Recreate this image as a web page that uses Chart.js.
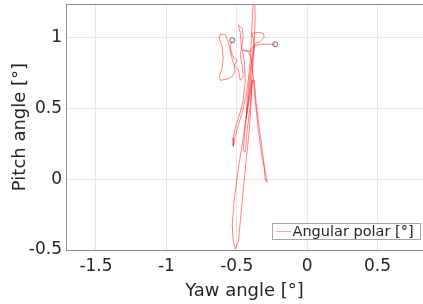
<!DOCTYPE html>
<html>
<head>
<meta charset="utf-8">
<script src="https://cdn.jsdelivr.net/npm/chart.js@4"></script>
<style>
  body { margin: 0; background: #fff; overflow: hidden; }
</style>
</head>
<body>
<canvas id="c" width="423" height="304"></canvas>
<script>
// yaw / pitch trace, in degrees
let yaw = [-0.532, -0.546, -0.539, -0.518, -0.496, -0.518, -0.511, -0.539, -0.574, -0.617,
  -0.624, -0.603, -0.596, -0.603, -0.624, -0.617, -0.582, -0.560, -0.546, -0.525,
  -0.489, -0.475, -0.454, -0.461, -0.475, -0.461, -0.454, -0.461, -0.489, -0.475,
  -0.468, -0.447, -0.440, -0.454, -0.475, -0.511, -0.525, -0.525, -0.511, -0.482,
  -0.454, -0.433, -0.418, -0.404, -0.397, -0.390, -0.383, -0.376, -0.369, -0.376,
  -0.390, -0.418, -0.440, -0.454, -0.440, -0.426, -0.404, -0.390, -0.397, -0.411,
  -0.433, -0.454, -0.475, -0.489, -0.511, -0.525, -0.532, -0.518, -0.496, -0.468,
  -0.440, -0.418, -0.404, -0.390, -0.376, -0.383, -0.390, -0.348, -0.312, -0.305,
  -0.333, -0.376, -0.390, -0.404, -0.426, -0.433, -0.411, -0.390,
  -0.376, -0.362, -0.340, -0.326, -0.312, -0.298, -0.284,
  -0.298, -0.305, -0.326, -0.348, -0.369, -0.383, -0.397, -0.418, -0.454, -0.404,
  -0.383, -0.333, -0.277, -0.227];
let pitch = [0.979, 0.937, 0.894, 0.852, 0.838, 0.803, 0.754, 0.718, 0.704, 0.697,
  0.725, 0.789, 0.859, 0.930, 0.993, 1.021, 1.021, 0.965, 0.908, 0.817,
  0.768, 0.697, 0.725, 0.796, 0.880, 0.944, 1.007, 1.063, 1.085, 1.035,
  0.944, 0.838, 0.697, 0.556, 0.472, 0.359, 0.289, 0.232, 0.303, 0.401,
  0.500, 0.592, 0.697, 0.838, 0.979, 1.120, 1.261, 1.303, 1.155, 0.944,
  0.732, 0.556, 0.380, 0.204, 0.190, 0.345, 0.521, 0.697, 0.556, 0.345,
  0.134, -0.077, -0.303, -0.444, -0.493, -0.437, -0.324, -0.148, 0.028, 0.204,
  0.380, 0.556, 0.697, 0.824, 0.923, 0.993, 1.028, 1.035, 1.028, 1.000,
  0.972, 0.951, 0.873, 0.768, 0.556, 0.430, 0.556, 0.697,
  0.697, 0.535, 0.359, 0.261, 0.148, 0.049, -0.021,
  -0.007, 0.077, 0.190, 0.359, 0.556, 0.725, 0.852, 0.901, 0.908, 0.901,
  0.937, 0.951, 0.951, 0.951];
let xTicks = [-1.5, -1, -0.5, 0, 0.5];
let yTicks = [-0.5, 0, 0.5, 1];
let seriesLabel = 'Angular polar [°]';

const ctx = document.getElementById('c').getContext('2d');

let trace = yaw.map((v, i) => ({ x: v, y: pitch[i] }));
let ends = [trace[0], trace[trace.length - 1]];

const font = 'DejaVu Sans';

const frame = {
  id: 'frame',
  afterDraw(chart) {
    const a = chart.chartArea;
    const c = chart.ctx;
    c.save();
    // top box line
    c.strokeStyle = '#8c8c8c';
    c.lineWidth = 1;
    c.beginPath();
    c.moveTo(a.left, a.top + 0.5);
    c.lineTo(a.right, a.top + 0.5);
    c.stroke();
    // legend box, lower right
    const bx = 272.5, by = 223.5, bw = 148, bh = 16;
    c.fillStyle = '#fff';
    c.fillRect(bx, by, bw, bh);
    c.strokeStyle = '#a6a6a6';
    c.strokeRect(bx, by, bw, bh);
    c.strokeStyle = 'rgba(255,0,0,0.35)';
    c.beginPath();
    c.moveTo(bx + 3, by + bh / 2);
    c.lineTo(bx + 19, by + bh / 2);
    c.stroke();
    c.fillStyle = '#262626';
    c.font = '14.5px ' + font;
    c.textBaseline = 'middle';
    c.fillText(chart.data.datasets[0].label, bx + 20, by + bh / 2 + 0.5);
    c.restore();
  }
};

const myChart = new Chart(ctx, {
  type: 'scatter',
  data: {
    datasets: [{
      label: seriesLabel,
      data: trace,
      showLine: true,
      borderColor: 'rgba(255,0,0,0.7)',
      borderWidth: 0.7,
      pointRadius: 0,
      tension: 0
    }, {
      label: 'ends',
      data: ends,
      showLine: false,
      pointRadius: 2.5,
      borderWidth: 1,
      borderColor: '#666',
      backgroundColor: 'rgba(255,255,255,0)'
    }]
  },
  options: {
    responsive: false,
    animation: false,
    layout: { autoPadding: false, padding: { top: 4, right: 0, left: 0, bottom: 0 } },
    plugins: { legend: { display: false }, tooltip: { enabled: false } },
    scales: {
      x: {
        type: 'linear',
        min: -1.713,
        max: 0.823,
        afterBuildTicks: s => { s.ticks = xTicks.map(v => ({ value: v })); },
        afterFit: s => { s.height = 54; s.paddingLeft = 0; s.paddingRight = 0; },
        ticks: {
          padding: 6,
          color: '#262626',
          font: { family: font, size: 17 },
          callback: v => String(v),
          maxRotation: 0
        },
        grid: { color: '#e6e6e6', drawTicks: false },
        border: { color: '#8c8c8c' },
        title: {
          display: true,
          text: 'Yaw angle [°]',
          color: '#262626',
          font: { family: font, size: 18 },
          padding: { top: 0, bottom: 2 }
        }
      },
      y: {
        type: 'linear',
        min: -0.5,
        max: 1.235,
        afterBuildTicks: s => { s.ticks = yTicks.map(v => ({ value: v })); },
        afterFit: s => { s.width = 66; s.paddingTop = 0; s.paddingBottom = 0; },
        ticks: {
          padding: 4,
          color: '#262626',
          font: { family: font, size: 17 },
          callback: v => String(v)
        },
        grid: { color: '#e6e6e6', drawTicks: false },
        border: { color: '#8c8c8c' },
        title: {
          display: true,
          text: 'Pitch angle [°]',
          color: '#262626',
          font: { family: font, size: 18 },
          padding: { top: 10, bottom: 0 }
        }
      }
    }
  },
  plugins: [frame]
});
</script>
</body>
</html>
